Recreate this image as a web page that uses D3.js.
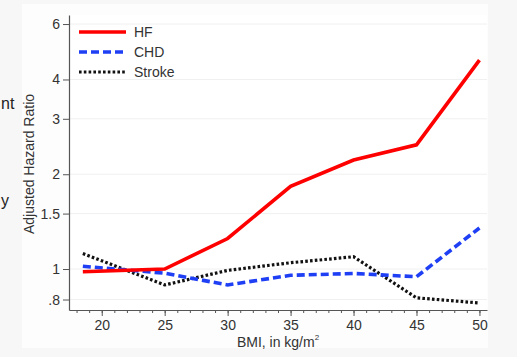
<!DOCTYPE html>
<html><head><meta charset="utf-8">
<script src="https://cdn.jsdelivr.net/npm/d3@7"></script>
<style>html,body{margin:0;padding:0;background:#f7f7f7;}svg{display:block;font-family:"Liberation Sans",Arial,sans-serif;}</style>
</head><body>
<script>
const bmi = [18.5, 25, 30, 35, 40, 45, 50];
const hf = [0.98, 1.0, 1.25, 1.83, 2.22, 2.48, 4.61];
const chd = [1.02, 0.97, 0.89, 0.955, 0.968, 0.945, 1.35];
const stroke = [1.12, 0.89, 0.99, 1.047, 1.094, 0.81, 0.78];
const yTicks = [0.8, 1, 1.5, 2, 3, 4, 6];
const yTickLabels = [".8", "1", "1.5", "2", "3", "4", "6"];
const xTicks = [20, 25, 30, 35, 40, 45, 50];
const seriesNames = ["HF", "CHD", "Stroke"];

const W = 517, H = 357;
const svg = d3.select("body").append("svg").attr("width", W).attr("height", H);

// graph region
svg.append("rect").attr("x", 22).attr("y", 4).attr("width", 466).attr("height", 344).attr("fill", "#fdfdfd");
svg.append("rect").attr("x", 69).attr("y", 15).attr("width", 418).attr("height", 295).attr("fill", "#ffffff");

const x = d3.scaleLinear().domain([17.4, 50.6]).range([69, 487]);
const y = d3.scaleLog().domain([0.741, 6.41]).range([310, 15]);

// gridlines
svg.append("g").selectAll("line").data(yTicks).join("line")
  .attr("x1", 70).attr("x2", 487).attr("y1", d => y(d)).attr("y2", d => y(d))
  .attr("stroke", "#f0f0f0").attr("stroke-width", 1);

// y axis
const yAxis = d3.axisLeft(y).tickValues(yTicks).tickFormat((d, i) => yTickLabels[i]).tickSize(6).tickPadding(3).tickSizeOuter(0);
const gy = svg.append("g").attr("transform", "translate(69,0)").call(yAxis);
gy.select(".domain").attr("stroke", "#555").attr("stroke-width", 1.2);
gy.selectAll(".tick line").attr("stroke", "#555");
gy.selectAll(".tick text").attr("font-size", 14).attr("fill", "#333").attr("font-family", "Liberation Sans, Arial, sans-serif");

// x axis minor
const minor = d3.range(18, 51);
const gxm = svg.append("g").attr("transform", "translate(0,310)").call(d3.axisBottom(x).tickValues(minor).tickSize(3).tickFormat("").tickSizeOuter(0));
gxm.select(".domain").attr("stroke", "#555").attr("stroke-width", 1.2);
gxm.selectAll(".tick line").attr("stroke", "#555");
const gx = svg.append("g").attr("transform", "translate(0,310)").call(d3.axisBottom(x).tickValues(xTicks).tickSize(6).tickPadding(4).tickSizeOuter(0));
gx.select(".domain").remove();
gx.selectAll(".tick line").attr("stroke", "#555");
gx.selectAll(".tick text").attr("font-size", 14).attr("fill", "#333").attr("font-family", "Liberation Sans, Arial, sans-serif");

// axis titles
svg.append("text").attr("transform", "translate(34,164) rotate(-90)").attr("text-anchor", "middle")
  .attr("font-size", 14).attr("fill", "#333").text("Adjusted Hazard Ratio");
const xt = svg.append("text").attr("x", 278).attr("y", 347).attr("text-anchor", "middle").attr("font-size", 14).attr("fill", "#333");
xt.append("tspan").text("BMI, in kg/m");
xt.append("tspan").attr("font-size", 8).attr("dy", -7).text("2");

// lines
const styles = [
  {color: "#ff0000", dash: null, width: 3.6},
  {color: "#1f3ff5", dash: "8,4", width: 3.6},
  {color: "#111111", dash: "2.6,2.2", width: 3.2}
];
const data = [hf, chd, stroke];
const line = d3.line().x((d, i) => x(bmi[i])).y(d => y(d));
const order = [2, 1, 0];
order.forEach(k => {
  svg.append("path").datum(data[k]).attr("d", line).attr("fill", "none")
    .attr("stroke", styles[k].color).attr("stroke-width", styles[k].width)
    .attr("stroke-dasharray", styles[k].dash).attr("stroke-linejoin", "miter");
});

// legend
const legY = [32, 52, 72];
seriesNames.forEach((n, k) => {
  svg.append("line").attr("x1", 79).attr("x2", 126).attr("y1", legY[k]).attr("y2", legY[k])
    .attr("stroke", styles[k].color).attr("stroke-width", styles[k].width).attr("stroke-dasharray", styles[k].dash);
  svg.append("text").attr("x", 134).attr("y", legY[k] + 5).attr("font-size", 14).attr("fill", "#333").text(n);
});

// cropped slide text fragments
svg.append("text").attr("x", 1).attr("y", 109).attr("font-size", 16).attr("fill", "#222").text("nt");
svg.append("text").attr("x", 1).attr("y", 206).attr("font-size", 16).attr("fill", "#222").text("y");
</script>
</body></html>
